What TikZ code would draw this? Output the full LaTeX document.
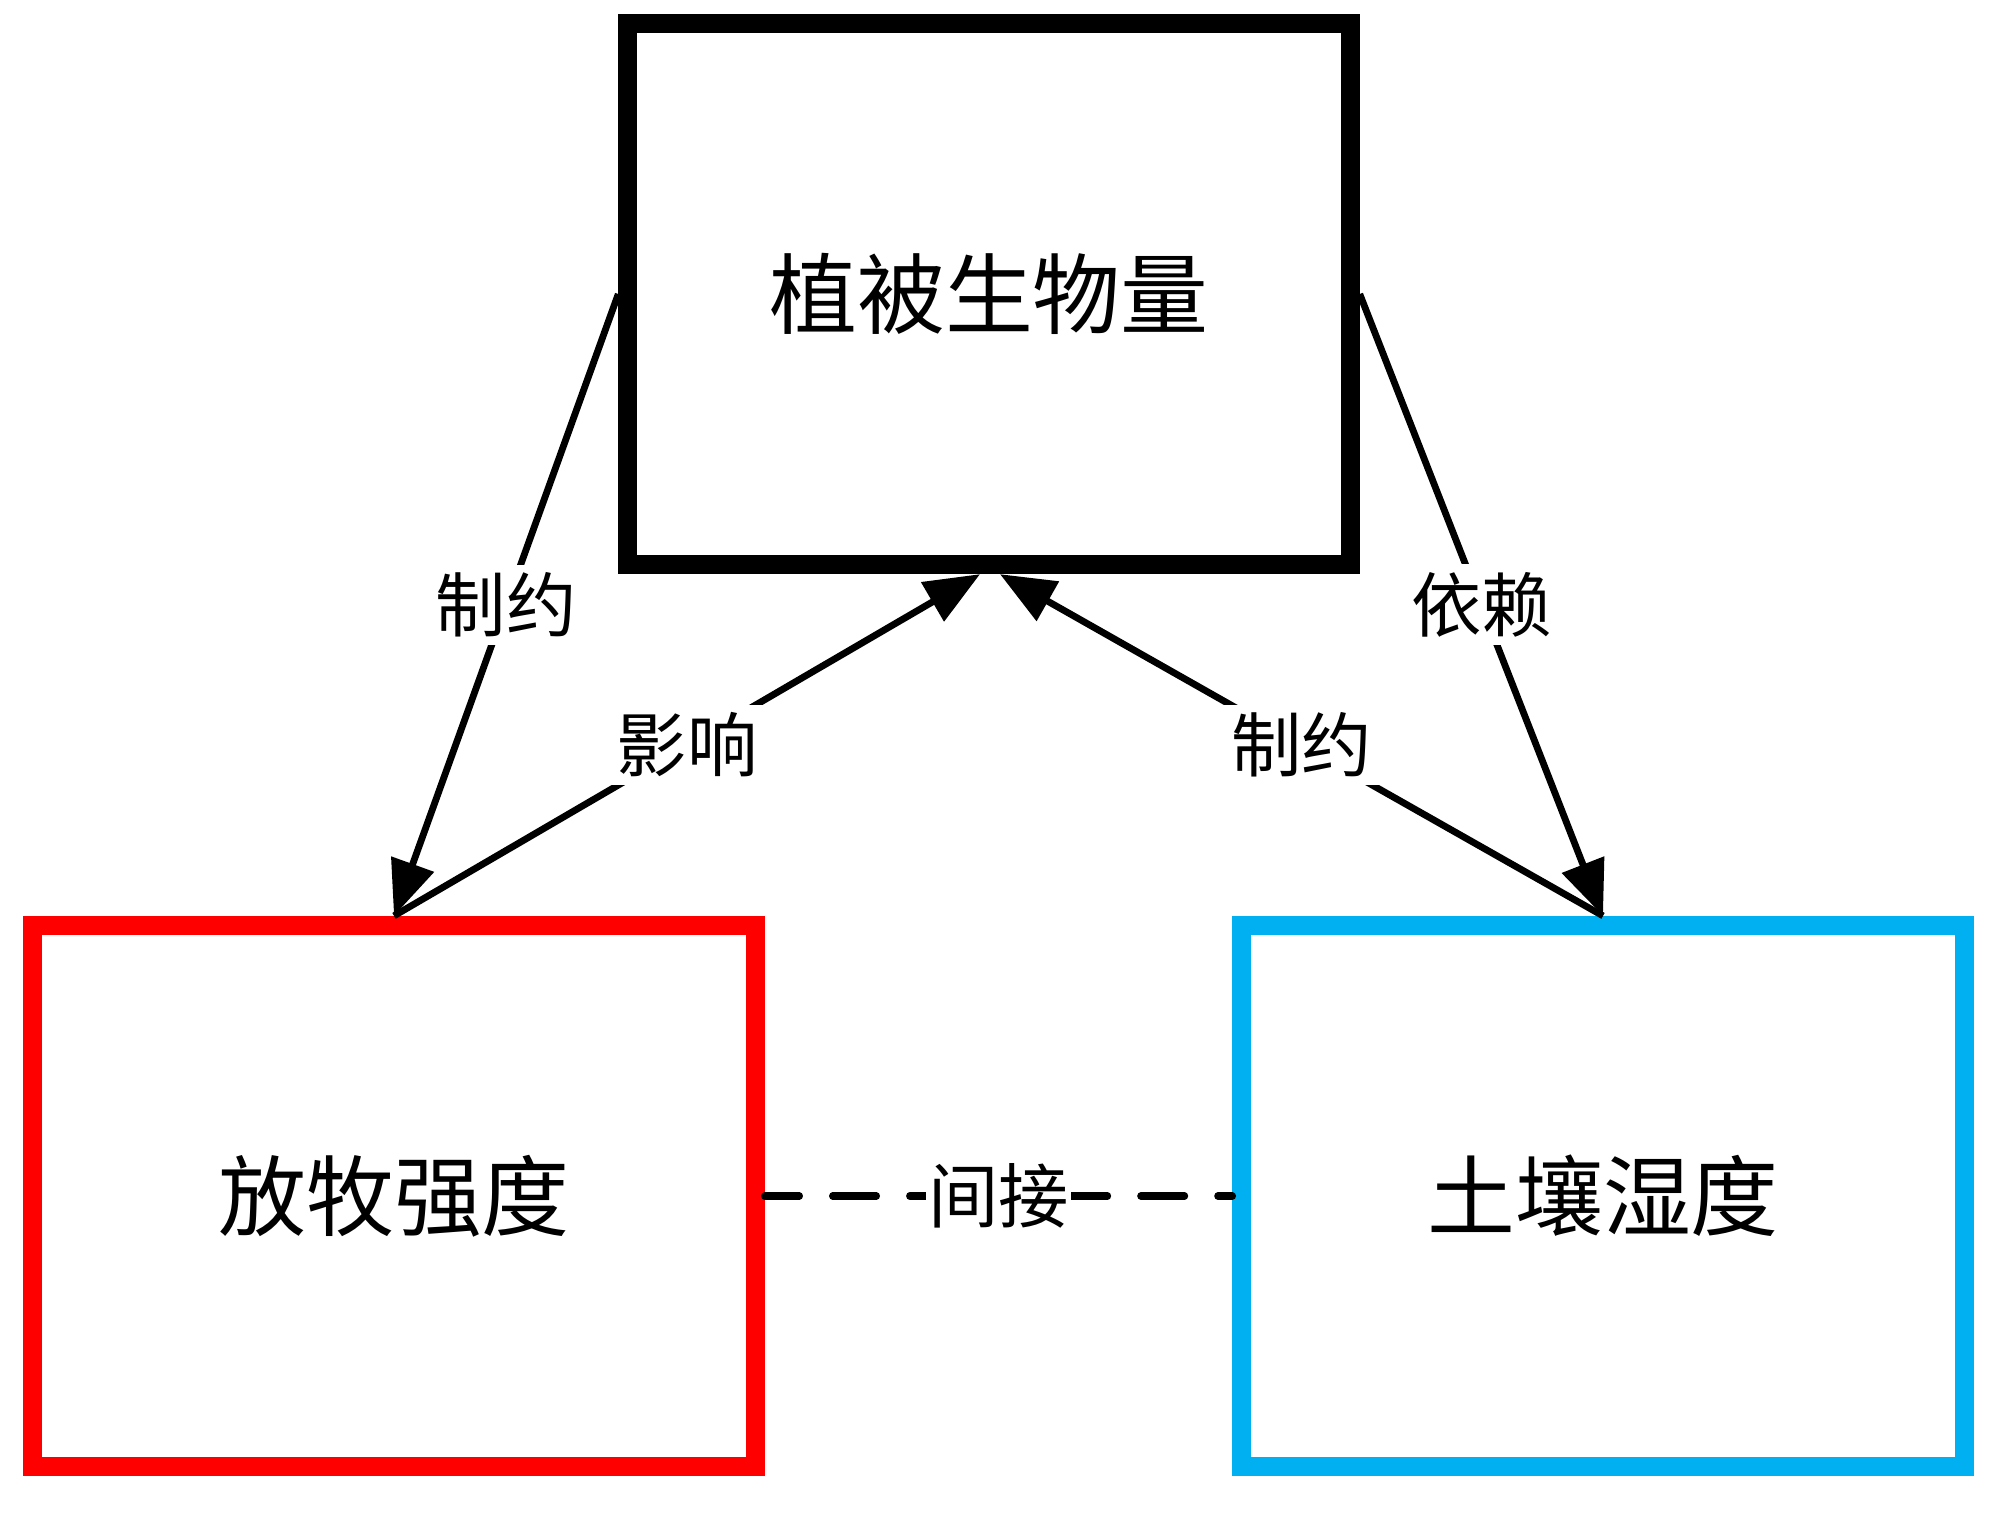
\documentclass[tikz,border=0pt]{standalone}
\usepackage{fontspec}
\setmainfont{Noto Sans CJK SC}
\usetikzlibrary{arrows.meta}
\definecolor{boxred}{RGB}{255,0,0}
\definecolor{boxblue}{RGB}{0,176,240}
\begin{document}
\begin{tikzpicture}[x=0.01cm,y=-0.01cm,
  box/.style={draw, line width=0.19cm, minimum width=7.22cm, minimum height=5.41cm,
    inner sep=0pt, fill=white, font=\fontsize{25pt}{30pt}\selectfont},
  conn/.style={line width=0.068cm, -{Triangle[length=0.55cm,width=0.44cm]}},
  lbl/.style={fill=white, inner sep=0.08cm, font=\fontsize{20pt}{24pt}\selectfont}]
\useasboundingbox (0,0) rectangle (2000,1514);
\node[box] (top) at (989,294) {植被生物量};
\node[box, draw=boxred] (red) at (394,1196) {放牧强度};
\node[box, draw=boxblue] (blue) at (1603,1196) {土壤湿度};
\coordinate (tl) at ([xshift=-0.09cm]top.south);
\coordinate (tr) at ([xshift=0.11cm]top.south);
\draw[conn] (top.west) -- node[lbl]{制约} (red.north);
\draw[conn] (top.east) -- node[lbl]{依赖} (blue.north);
\draw[conn] (red.north) -- node[lbl]{影响} (tl);
\draw[conn] (blue.north) -- node[lbl]{制约} (tr);
\draw[line width=0.075cm, line cap=round, dash pattern=on 0.435cm off 0.335cm, dash phase=0.09cm]
  (red.east) -- node[lbl, inner sep=0.02cm]{间接} (blue.west);
\end{tikzpicture}
\end{document}
